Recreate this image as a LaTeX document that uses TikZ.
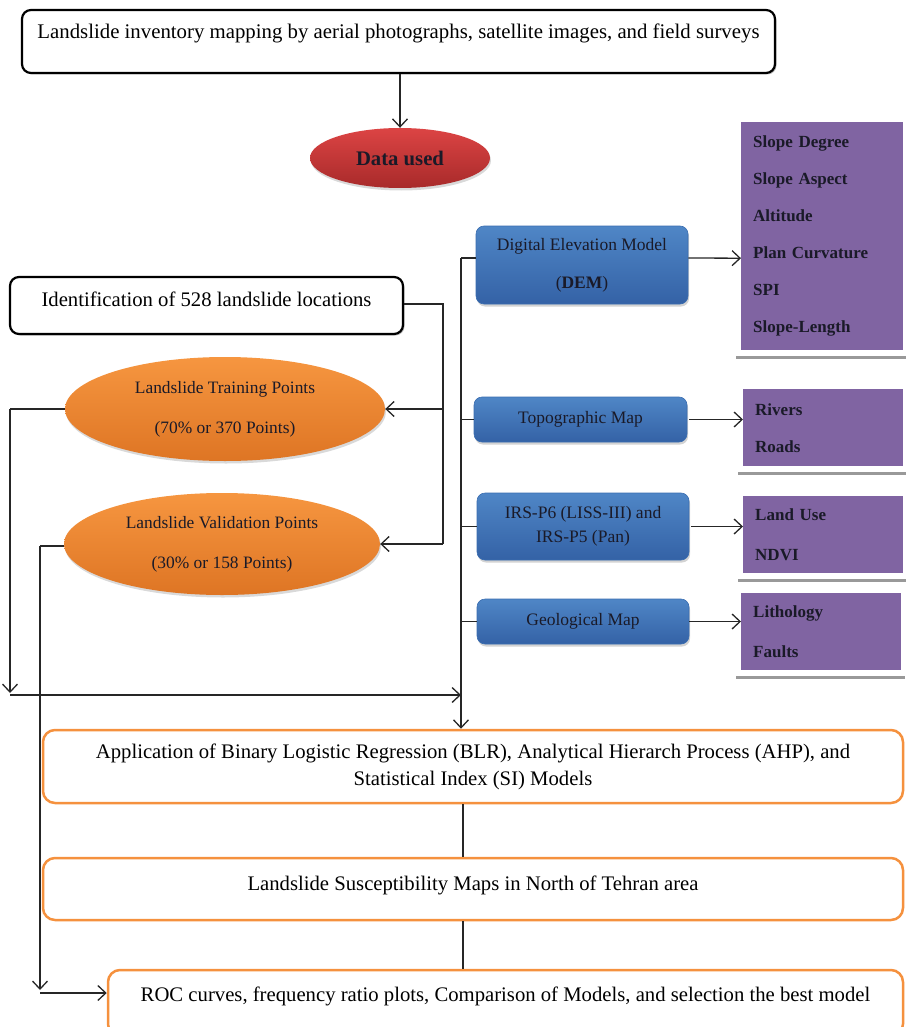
\documentclass[tikz,border=0pt]{standalone}
\usepackage{fontspec}
\setmainfont{Liberation Serif}
\usetikzlibrary{shapes.geometric,arrows.meta,shadows,calc}
\definecolor{redtop}{HTML}{DC4444}
\definecolor{redbot}{HTML}{A82A2A}
\definecolor{bluetop}{HTML}{4F86C6}
\definecolor{bluebot}{HTML}{3462A6}
\definecolor{blueline}{HTML}{3A6DB0}
\definecolor{orgtop}{HTML}{F69640}
\definecolor{orgbot}{HTML}{DE7524}
\definecolor{orgline}{HTML}{F5913E}
\definecolor{purp}{HTML}{8064A2}
\definecolor{darktext}{HTML}{1A1A28}
\begin{document}
\begin{tikzpicture}[x=1pt,y=-1pt,
  blackbox/.style={draw, line width=2.2pt, rounded corners=9pt, fill=white, inner sep=0pt, align=center,
    drop shadow={shadow xshift=1.5pt,shadow yshift=-1.5pt,opacity=0.5}},
  bluebox/.style={draw=blueline, line width=0.6pt, rounded corners=8pt, top color=bluetop, bottom color=bluebot,
    inner sep=0pt, align=center, text=darktext, font=\fontsize{17.5}{24}\selectfont,
    drop shadow={shadow xshift=1pt,shadow yshift=-2.5pt,opacity=0.35}},
  purpbox/.style={fill=purp, anchor=north west, inner xsep=12pt, inner ysep=0pt, align=left,
    font=\bfseries\fontsize{17}{37}\selectfont, text=darktext},
  orgell/.style={ellipse, top color=orgtop, bottom color=orgbot, inner sep=0pt, align=center,
    font=\fontsize{17.4}{40}\selectfont, text=darktext,
    drop shadow={shadow xshift=1pt,shadow yshift=-2.5pt,opacity=0.3}},
  orgbox/.style={draw=orgline, line width=2.5pt, rounded corners=12pt, fill=white, inner sep=0pt, align=center,
    font=\fontsize{20.7}{27}\selectfont},
  conn/.style={line width=1.3pt, draw=black!85},
  arr/.style={conn, -{Straight Barb[length=8pt,width=15pt]}},
  shadowline/.style={draw=black!40, line width=2.5pt}
]
\useasboundingbox (0,0) rectangle (905,1027);

% top
\node[blackbox, minimum width=753pt, minimum height=63pt, font=\fontsize{20.8}{20}\selectfont] (top) at (398.5,41.5)
  {Landslide inventory mapping by aerial photographs, satellite images, and field surveys\\\mbox{}};
\node[ellipse, top color=redtop, bottom color=redbot, minimum width=180pt, minimum height=60pt, inner sep=0pt,
  font=\bfseries\fontsize{20.7}{24}\selectfont, text=darktext,
  drop shadow={shadow xshift=1pt,shadow yshift=-2.5pt,opacity=0.3}] (data) at (400,158) {Data used};
\draw[arr] (top.south -| data.north) -- (data.north);

% identification
\node[blackbox, minimum width=393pt, minimum height=57pt, font=\fontsize{20.7}{12}\selectfont] (ident) at (206.5,305.5)
  {Identification of 528 landslide locations\\\mbox{}};
\node[orgell, minimum width=320pt, minimum height=104pt] (train) at (225,409)
  {Landslide Training Points\\(70\% or 370 Points)};
\node[orgell, minimum width=316pt, minimum height=102pt] (valid) at (222,544)
  {Landslide Validation Points\\(30\% or 158 Points)};

% blue boxes
\node[bluebox, minimum width=212pt, minimum height=78pt, font=\fontsize{17.5}{38}\selectfont] (dem) at (582,265)
  {Digital Elevation Model\\(\textbf{DEM})};
\node[bluebox, minimum width=213pt, minimum height=45pt] (topo) at (580.5,419.5) {Topographic Map};
\node[bluebox, minimum width=212pt, minimum height=67pt] (irs) at (583,526.5) {IRS-P6 (LISS-III) and\\IRS-P5 (Pan)};
\node[bluebox, minimum width=212pt, minimum height=45pt] (geo) at (583,621.5) {Geological Map};

% purple boxes
\node[purpbox, text width=138pt, minimum height=228pt] (p1) at (741,122)
  {Slope Degree\\Slope Aspect\\Altitude\\Plan Curvature\\SPI\\Slope-Length};
\node[purpbox, text width=136pt, minimum height=77pt] (p2) at (743,389) {Rivers\\Roads};
\node[purpbox, text width=136pt, minimum height=77pt, font=\bfseries\fontsize{17}{40}\selectfont] (p3) at (743,496) {Land Use\\NDVI};
\node[purpbox, text width=136pt, minimum height=77pt, font=\bfseries\fontsize{17}{40}\selectfont] (p4) at (741,593) {Lithology\\Faults};
\foreach \p in {p1,p2,p3,p4}
  \draw[shadowline] ($(\p.south west)+(-5,7)$) -- ($(\p.south east)+(4,7)$);

\draw[arr] ($(dem.east)+(0,-7)$) -- ($(p1.west)+(0,22)$);
\draw[arr] ($(topo.east)+(2,0)$) -- (topo.east -| p2.west);
\draw[arr] ($(irs.east)+(2,0)$) -- (irs.east -| p3.west);
\draw[arr] (geo.east) -- (geo.east -| p4.west);

% orange boxes
\node[orgbox, minimum width=860pt, minimum height=73pt] (app) at (473,766.5)
  {Application of Binary Logistic Regression (BLR), Analytical Hierarch Process (AHP), and\\Statistical Index (SI) Models};
\node[orgbox, minimum width=860pt, minimum height=62pt] (susc) at (473,889)
  {Landslide Susceptibility Maps in North of Tehran area\\[-15pt]\mbox{}};
\node[orgbox, minimum width=795pt, minimum height=66pt] (roc) at (505.5,1003)
  {ROC curves, frequency ratio plots, Comparison of Models, and selection the best model\\[-10pt]\mbox{}};

% spine
\coordinate (sp) at (461,258);
\draw[conn] (sp) -- ($(dem.west)+(0,-7)$);
\draw[conn] (topo.west) -- (topo.west -| sp);
\draw[conn] (irs.west) -- (irs.west -| sp);
\draw[conn] (geo.west) -- (geo.west -| sp);
\draw[arr] (sp) -- (sp |- app.north);

% identification split
\coordinate (bx) at (443,304);
\draw[conn] ($(ident.east)+(0,-1.5)$) -- (bx) -- (bx |- valid.east);
\draw[arr] (bx |- train.east) -- (train.east);
\draw[arr] (bx |- valid.east) -- (valid.east);

% training path
\coordinate (tl) at (10,409);
\coordinate (tb) at (10,693);
\coordinate (th) at (10,695);
\draw[conn] (train.west) -- (tl);
\draw[arr] (tl) -- (tb);
\draw[arr] (th) -- (th -| sp);

% validation path
\coordinate (vl) at (40,546);
\coordinate (vb) at (40,990);
\coordinate (vh) at (40,993);
\draw[conn] ($(valid.west)+(0,2)$) -- (vl);
\draw[arr] (vl) -- (vb);
\draw[arr] (vh) -- (vh -| roc.west);

% orange links
\coordinate (ox) at (463,803);
\draw[conn] (ox |- app.south) -- (ox |- susc.north);
\draw[conn] (ox |- susc.south) -- (ox |- roc.north);
\end{tikzpicture}
\end{document}
